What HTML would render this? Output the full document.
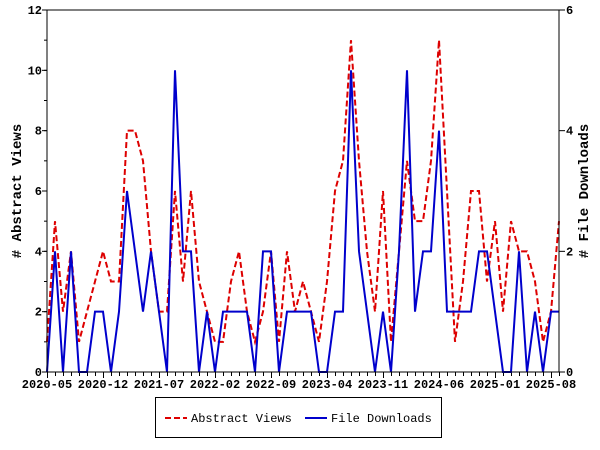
<!DOCTYPE html>
<html><head><meta charset="utf-8"><style>
html,body{margin:0;padding:0;background:#fff;width:600px;height:450px;overflow:hidden}
text{font-family:"Liberation Mono",monospace;font-weight:bold;fill:#000}
</style></head><body>
<svg id="s" width="600" height="450" xmlns="http://www.w3.org/2000/svg">
<g id="g"></g>
<rect x="47" y="10" width="512" height="362" fill="none" stroke="#000" stroke-width="1"/>
<text x="0" y="0" font-size="14" text-anchor="middle" transform="translate(21,191) rotate(-90)">#  Abstract Views</text>
<text x="0" y="0" font-size="14" text-anchor="middle" transform="translate(588,191) rotate(-90)"># File Downloads</text>
<rect x="155.5" y="397.5" width="286" height="40" fill="#fff" stroke="#000"/>
<line x1="165" y1="418" x2="187" y2="418" stroke="#d00" stroke-width="2" stroke-dasharray="6,3"/>
<text x="191" y="422" font-size="12" style="font-weight:normal">Abstract Views</text>
<line x1="305" y1="418" x2="327" y2="418" stroke="#00c" stroke-width="2"/>
<text x="331" y="422" font-size="12" style="font-weight:normal">File Downloads</text>
</svg>
<script>
var red=[1,5,2,4,1,2,3,4,3,3,8,8,7,4,2,2,6,3,6,3,2,1,1,3,4,2,1,2,4,1,4,2,3,2,1,3,6,7,11,7,4,2,6,1,4,7,5,5,7,11,6,1,3,6,6,3,5,2,5,4,4,3,1,2,5];
var blue=[0,2,0,2,0,0,1,1,0,1,3,2,1,2,1,0,5,2,2,0,1,0,1,1,1,1,0,2,2,0,1,1,1,1,0,0,1,1,5,2,1,0,1,0,2,5,1,2,2,4,1,1,1,1,2,2,1,0,0,2,0,1,0,1,1];
var g=document.getElementById('g'),h='';
function X(i){return 47+8*i}
for(var i=0;i<=64;i++){var x=X(i)+.5;var L=(i%7==0)?6:4;h+='<line x1="'+x+'" y1="372" x2="'+x+'" y2="'+(372+L)+'" stroke="#000"/>';}
var lab=['2020-05','2020-12','2021-07','2022-02','2022-09','2023-04','2023-11','2024-06','2025-01','2025-08'];
for(var k=0;k<lab.length;k++){h+='<text x="'+X(7*k)+'" y="388" font-size="12" text-anchor="middle">'+lab[k]+'</text>';}
for(var v=0;v<=12;v+=2){var y=372-v*30.1667;h+='<line x1="42" y1="'+y+'" x2="47" y2="'+y+'" stroke="#000"/><text x="42" y="'+(y+4)+'" font-size="12" text-anchor="end">'+v+'</text>';}
for(var v=0;v<=12;v+=1){var y=372-v*30.1667;h+='<line x1="44" y1="'+y+'" x2="47" y2="'+y+'" stroke="#000"/>';}
for(var v=0;v<=6;v+=2){var y=372-v*60.333;h+='<line x1="559" y1="'+y+'" x2="565" y2="'+y+'" stroke="#000"/><text x="566" y="'+(y+4)+'" font-size="12">'+v+'</text>';}
var p='';for(var i=0;i<red.length;i++)p+=X(i)+','+(372-red[i]*30.1667)+' ';
h+='<polyline points="'+p+'" fill="none" stroke="#d00" stroke-width="2" stroke-dasharray="6,3"/>';
p='';for(var i=0;i<blue.length;i++)p+=X(i)+','+(372-blue[i]*60.333)+' ';
h+='<polyline points="'+p+'" fill="none" stroke="#00c" stroke-width="2"/>';
g.innerHTML=h;
</script>
</body></html>
